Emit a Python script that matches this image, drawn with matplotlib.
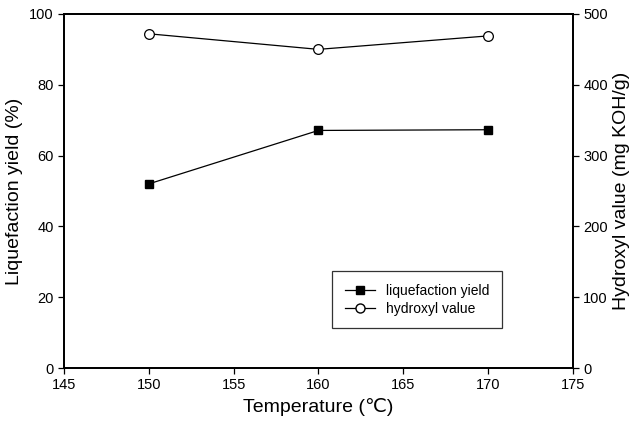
import matplotlib
matplotlib.use('Agg')
import matplotlib.pyplot as plt
from matplotlib.lines import Line2D

plt.rcParams['font.family'] = ['Liberation Sans', 'DejaVu Sans']

temps = [150, 160, 170]
yield_pct = [52.0, 67.1, 67.3]
hydroxyl = [472, 450, 469]

fig = plt.figure(figsize=(6.33, 4.23), dpi=100)
ax = fig.add_axes([0.101, 0.130, 0.804, 0.837])
ax2 = ax.twinx()

ax.plot(temps, yield_pct, color='black', lw=0.9, marker='s', ms=6,
        mfc='black', mec='black')
ax2.plot(temps, hydroxyl, color='black', lw=0.9, marker='o', ms=7,
         mfc='white', mec='black', mew=0.9)

ax.set_xlim(145, 175)
ax.set_ylim(0, 100)
ax2.set_ylim(0, 500)
ax.set_xticks(range(145, 176, 5))
ax.set_yticks(range(0, 101, 20))
ax2.set_yticks(range(0, 501, 100))

for a in (ax, ax2):
    a.tick_params(direction='out', length=4, width=0.9, labelsize=10.5)
    for s in a.spines.values():
        s.set_linewidth(1.3)

ax.set_xlabel('Temperature (\u2103)', fontsize=14)
ax.set_ylabel('Liquefaction yield (%)', fontsize=14)
ax2.set_ylabel('Hydroxyl value (mg KOH/g)', fontsize=14)

handles = [
    Line2D([], [], color='black', lw=0.9, marker='s', ms=5.5, mfc='black'),
    Line2D([], [], color='black', lw=0.9, marker='o', ms=6.5, mfc='white'),
]
leg = ax.legend(handles, ['liquefaction yield', 'hydroxyl value'],
                loc='center', bbox_to_anchor=(0.694, 0.193), fontsize=10,
                frameon=True, fancybox=False, edgecolor='black',
                handlelength=2.2, borderpad=0.9, labelspacing=0.3)
leg.get_frame().set_linewidth(0.9)

fig.savefig('out.png', dpi=100)
